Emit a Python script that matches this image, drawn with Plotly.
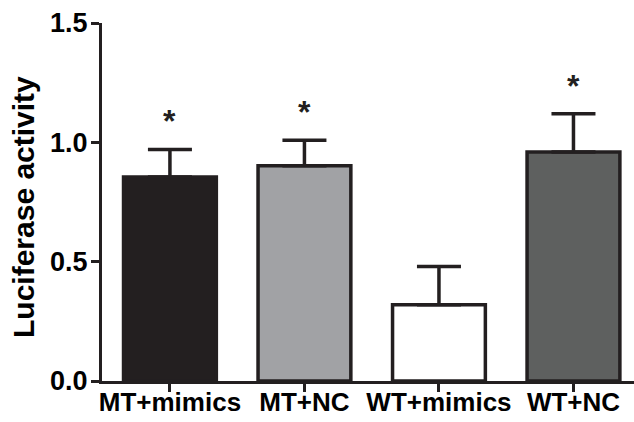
import plotly.graph_objects as go

categories = ["MT+mimics", "MT+NC", "WT+mimics", "WT+NC"]
values = [0.855, 0.902, 0.320, 0.960]
errors = [0.115, 0.107, 0.160, 0.160]
significant = [True, True, False, True]
bar_colors = ["#231f20", "#a1a2a5", "#ffffff", "#5e605f"]
y_ticks = [0.0, 0.5, 1.0, 1.5]
y_tick_labels = ["0.0", "0.5", "1.0", "1.5"]
y_title = "Luciferase activity"

ink = "#231f20"
font_family = "Liberation Sans, Arial, sans-serif"

fig = go.Figure()
fig.add_trace(go.Bar(
    x=list(range(len(categories))),
    y=values,
    width=0.69,
    marker=dict(color=bar_colors, line=dict(color=ink, width=3.5)),
    error_y=dict(type="data", array=errors, arrayminus=[0] * len(errors),
                 symmetric=False, color=ink, thickness=3.5, width=22),
    hoverinfo="skip",
))

for i, (v, e, s) in enumerate(zip(values, errors, significant)):
    if s:
        fig.add_annotation(x=i, y=v + e, text="<b>*</b>", showarrow=False,
                           xref="x", yref="y", yanchor="bottom", yshift=8,
                           font=dict(family=font_family, size=32, color=ink))

# y-axis title as rotated text
fig.add_annotation(x=0, y=0.5, xref="paper", yref="paper",
                   text="<b>%s</b>" % y_title, textangle=-90, showarrow=False,
                   xanchor="center", yanchor="middle", xshift=-79, yshift=-5,
                   font=dict(size=30, family=font_family, color="black"))

fig.update_layout(
    width=634, height=422,
    margin=dict(l=102, r=0, t=23, b=41),
    plot_bgcolor="white", paper_bgcolor="white",
    showlegend=False,
    font=dict(family=font_family, color="black"),
    xaxis=dict(
        range=[-0.505, 3.45],
        automargin=False,
        tickmode="array", tickvals=list(range(len(categories))),
        ticktext=["<b>%s</b>" % c for c in categories],
        tickfont=dict(size=26, family=font_family, color="black"),
        ticks="outside", ticklen=8, tickwidth=3, tickcolor=ink,
        ticklabelstandoff=-12,
        showline=True, linecolor=ink, linewidth=3,
        showgrid=False, zeroline=False, fixedrange=True,
    ),
    yaxis=dict(
        range=[0, 1.5],
        automargin=False,
        tickmode="array", tickvals=y_ticks,
        ticktext=["<b>%s</b>" % t for t in y_tick_labels],
        tickfont=dict(size=27, family=font_family, color="black"),
        ticks="outside", ticklen=8, tickwidth=3, tickcolor=ink,
        ticklabelstandoff=-2,
        showline=True, linecolor=ink, linewidth=3,
        showgrid=False, zeroline=False, fixedrange=True,
    ),
)

fig.write_html("out.html",
               config={"displayModeBar": False},
               post_script="document.body.style.margin='0px';"
                           "document.body.style.overflow='hidden';")
